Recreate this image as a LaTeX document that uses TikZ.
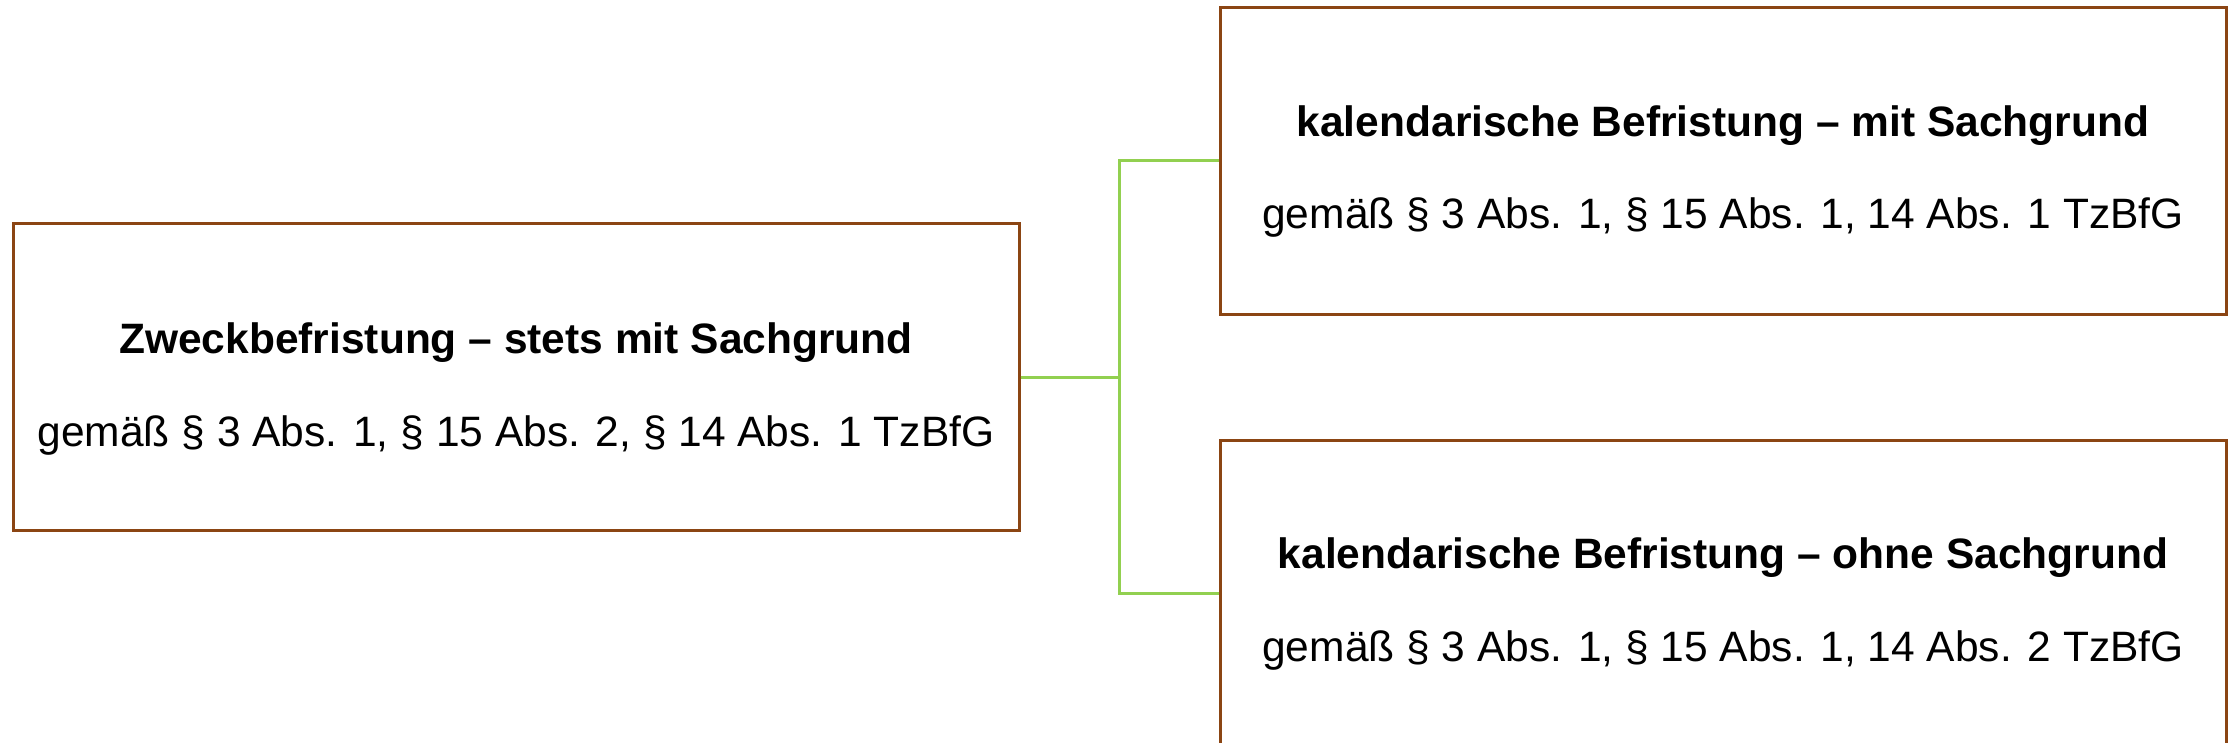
\documentclass[tikz,border=0pt]{standalone}
\usepackage{fontspec}
\setmainfont{Liberation Sans}
\usepackage{xcolor}
\usepackage{tikz}
\usetikzlibrary{positioning}

\definecolor{boxbraun}{RGB}{139,69,19}
\definecolor{astgruen}{RGB}{146,208,80}

\begin{document}
\begin{tikzpicture}[x=1pt, y=-1pt,
  every node/.style={font=\fontsize{42.5}{50}\selectfont},
  befrist/.style={draw=boxbraun, line width=3pt, minimum width=1006pt, minimum height=306pt, inner sep=0pt},
  titel/.style={anchor=base, font=\fontsize{42.5}{50}\selectfont\bfseries},
  zusatz/.style={anchor=base},
  ast/.style={draw=astgruen, line width=3pt}]

\useasboundingbox (0,0) rectangle (2229,743);

\node[befrist] (zweck) at (516,377) {};
\node[befrist] (kalmit) at (1723,161) {};
\node[befrist] (kalohne) at (1723,593) {};

\node[titel] (zweckT) at ([yshift=-131pt]zweck.north) {Zweckbefristung – stets mit Sachgrund};
\node[zusatz] (zweckG) at ([yshift=-224pt]zweck.north) {gemäß § 3 Abs. 1, § 15 Abs. 2, § 14 Abs. 1 TzBfG};

\node[titel] (kalmitT) at ([yshift=-130pt]kalmit.north) {kalendarische Befristung – mit Sachgrund};
\node[zusatz] (kalmitG) at ([yshift=-222pt]kalmit.north) {gemäß § 3 Abs. 1, § 15 Abs. 1, 14 Abs. 1 TzBfG};

\node[titel] (kalohneT) at ([yshift=-130pt]kalohne.north) {kalendarische Befristung – ohne Sachgrund};
\node[zusatz] (kalohneG) at ([yshift=-223pt]kalohne.north) {gemäß § 3 Abs. 1, § 15 Abs. 1, 14 Abs. 2 TzBfG};

\coordinate (gabel) at (1119,377);
\draw[ast] (zweck.east) -- (gabel);
\draw[ast] (gabel) |- (kalmit.west);
\draw[ast] (gabel) |- (kalohne.west);
\end{tikzpicture}
\end{document}
